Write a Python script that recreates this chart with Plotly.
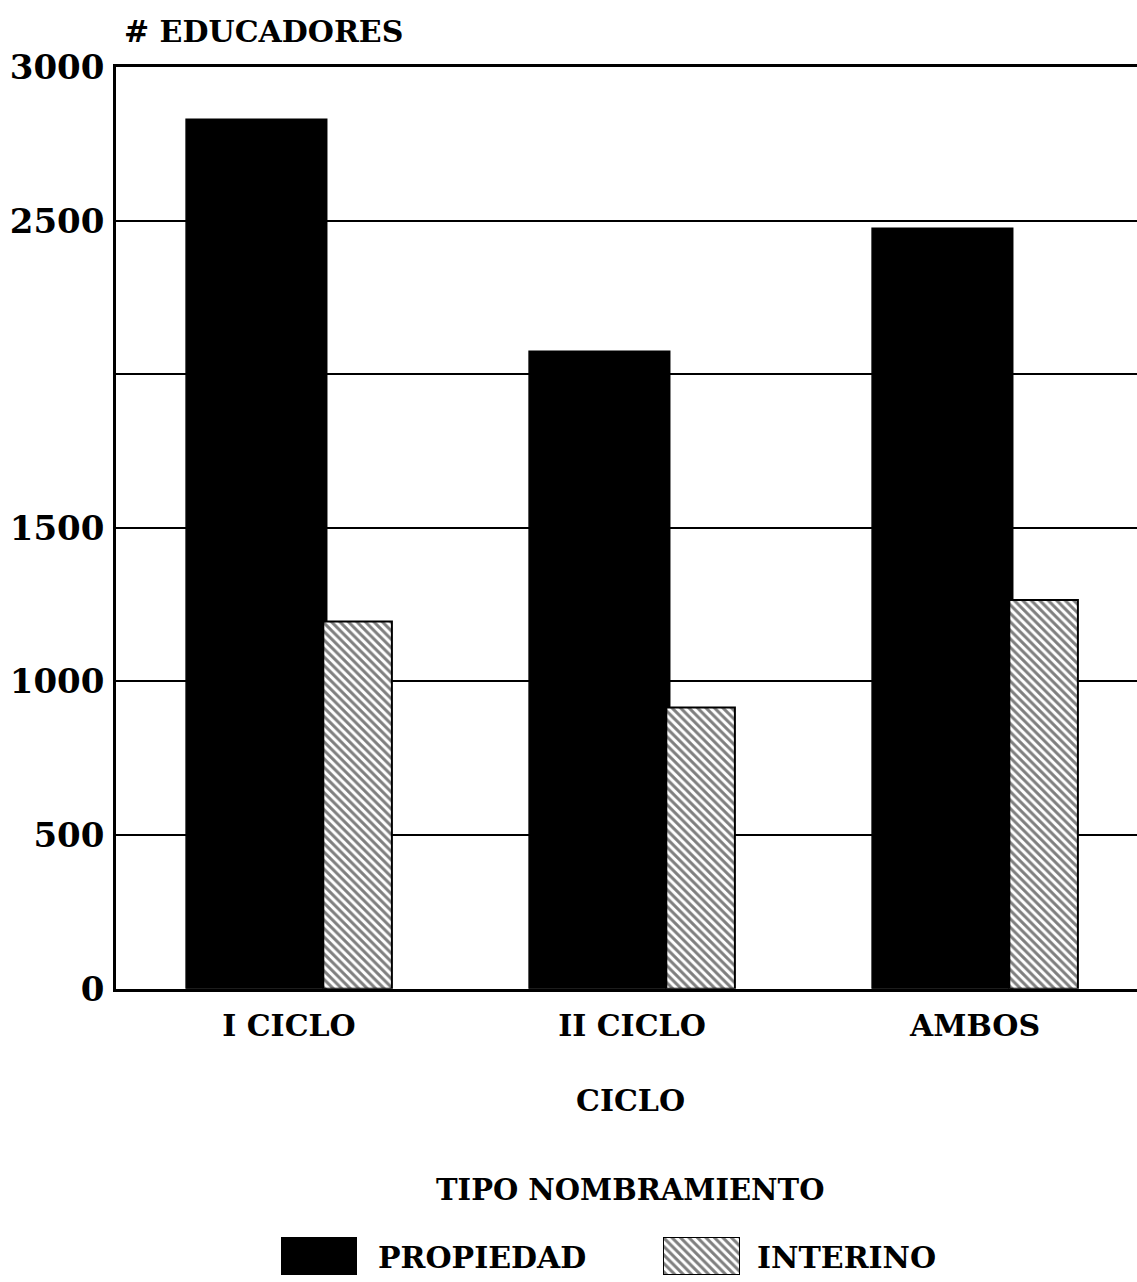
import plotly.graph_objects as go

categories = ["I CICLO", "II CICLO", "AMBOS"]
propiedad = [2830, 2075, 2475]
interino = [1195, 915, 1265]
y_tickvals = [0, 500, 1000, 1500, 2000, 2500, 3000]
y_ticktext = ["0", "500", "1000", "1500", "", "2500", "3000"]
series_names = ["PROPIEDAD", "INTERINO"]

# target picture size, and page height actually laid out (the capture
# squeezes a ~1300px tall viewport into 1282px)
W, H = 1137, 1282
HP = 1300
SY = HP / H

ML, MR, MB = 116, 0, 0
MT = 66 * SY
PW, PH = W - ML - MR, HP - MT - MB

def px_x(x):
    return (x - ML) / PW

def px_y(y):
    return (HP - MB - y * SY) / PH

FONT = "DejaVu Serif"
unit = 343.0       # pixels per category
cat0_px = 289.0    # pixel centre of first category
hatch = dict(shape="\\", fgcolor="black", bgcolor="white", size=6, solidity=0.5)

fig = go.Figure()
fig.add_trace(go.Bar(
    x=categories, y=propiedad, name=series_names[0],
    width=0.41, offset=-0.30,
    marker=dict(color="black", line=dict(color="black", width=1.5)),
    showlegend=False, xaxis="x", yaxis="y",
))
fig.add_trace(go.Bar(
    x=categories, y=interino, name=series_names[1],
    width=0.20, offset=0.10,
    marker=dict(color="white", line=dict(color="black", width=2), pattern=hatch),
    showlegend=False, xaxis="x", yaxis="y",
))

# legend swatches drawn as tiny bar subplots
fig.add_trace(go.Bar(
    x=[0], y=[1], width=1, name=series_names[0],
    marker=dict(color="black", line=dict(color="black", width=1)),
    showlegend=False, xaxis="x2", yaxis="y2", hoverinfo="skip",
))
fig.add_trace(go.Bar(
    x=[0], y=[1], width=1, name=series_names[1],
    marker=dict(color="white", line=dict(color="black", width=2), pattern=hatch),
    showlegend=False, xaxis="x3", yaxis="y3", hoverinfo="skip",
))

y_dom_bottom = px_y(990)
fig.update_layout(
    width=W, height=HP,
    margin=dict(l=ML, r=MR, t=MT, b=MB),
    paper_bgcolor="white", plot_bgcolor="white",
    barmode="overlay",
    font=dict(family=FONT, color="black", size=30, weight="bold"),
    xaxis=dict(
        domain=[0, 1],
        range=[(ML - cat0_px) / unit, (W - MR - cat0_px) / unit],
        type="category", showgrid=False, showline=True, mirror=True,
        linecolor="black", linewidth=2.5, ticks="",
        tickfont=dict(size=30, family=FONT, weight="bold"),
        ticklabelstandoff=9, anchor="y",
    ),
    yaxis=dict(
        domain=[y_dom_bottom, 1], range=[0, 3000],
        tickvals=y_tickvals, ticktext=y_ticktext,
        showgrid=True, gridcolor="black", gridwidth=2,
        showline=True, linecolor="black", linewidth=2.5,
        zeroline=False, ticks="", ticklabelstandoff=2,
        tickfont=dict(size=34, family=FONT, weight="bold"), anchor="x",
    ),
    xaxis2=dict(domain=[px_x(281), px_x(357)], range=[-0.5, 0.5], visible=False,
                anchor="y2", fixedrange=True),
    yaxis2=dict(domain=[px_y(1277), px_y(1239)], range=[0, 1], visible=False,
                anchor="x2", fixedrange=True),
    xaxis3=dict(domain=[px_x(663), px_x(740)], range=[-0.5, 0.5], visible=False,
                anchor="y3", fixedrange=True),
    yaxis3=dict(domain=[px_y(1277), px_y(1239)], range=[0, 1], visible=False,
                anchor="x3", fixedrange=True),
)

annots = [
    dict(text="# EDUCADORES", x=px_x(122), y=px_y(30), xanchor="left", yanchor="middle", size=30),
    dict(text="CICLO", x=px_x(630), y=px_y(1102), xanchor="center", yanchor="middle", size=30),
    dict(text="TIPO NOMBRAMIENTO", x=px_x(630), y=px_y(1192), xanchor="center", yanchor="middle", size=29),
    dict(text=series_names[0], x=px_x(376), y=px_y(1259), xanchor="left", yanchor="middle", size=30),
    dict(text=series_names[1], x=px_x(755), y=px_y(1259), xanchor="left", yanchor="middle", size=30),
]
for a in annots:
    fig.add_annotation(
        text=a["text"], x=a["x"], y=a["y"], xref="paper", yref="paper",
        xanchor=a["xanchor"], yanchor=a["yanchor"], showarrow=False,
        font=dict(family=FONT, size=a["size"], color="black", weight="bold"),
    )

post = (
    "var de=document.documentElement, b=document.body;"
    "de.style.margin='0';de.style.padding='0';"
    "b.style.margin='0';b.style.padding='0';b.style.overflow='hidden';"
)

fig.write_html(
    "out.html",
    config={"displayModeBar": False},
    post_script=post,
)
